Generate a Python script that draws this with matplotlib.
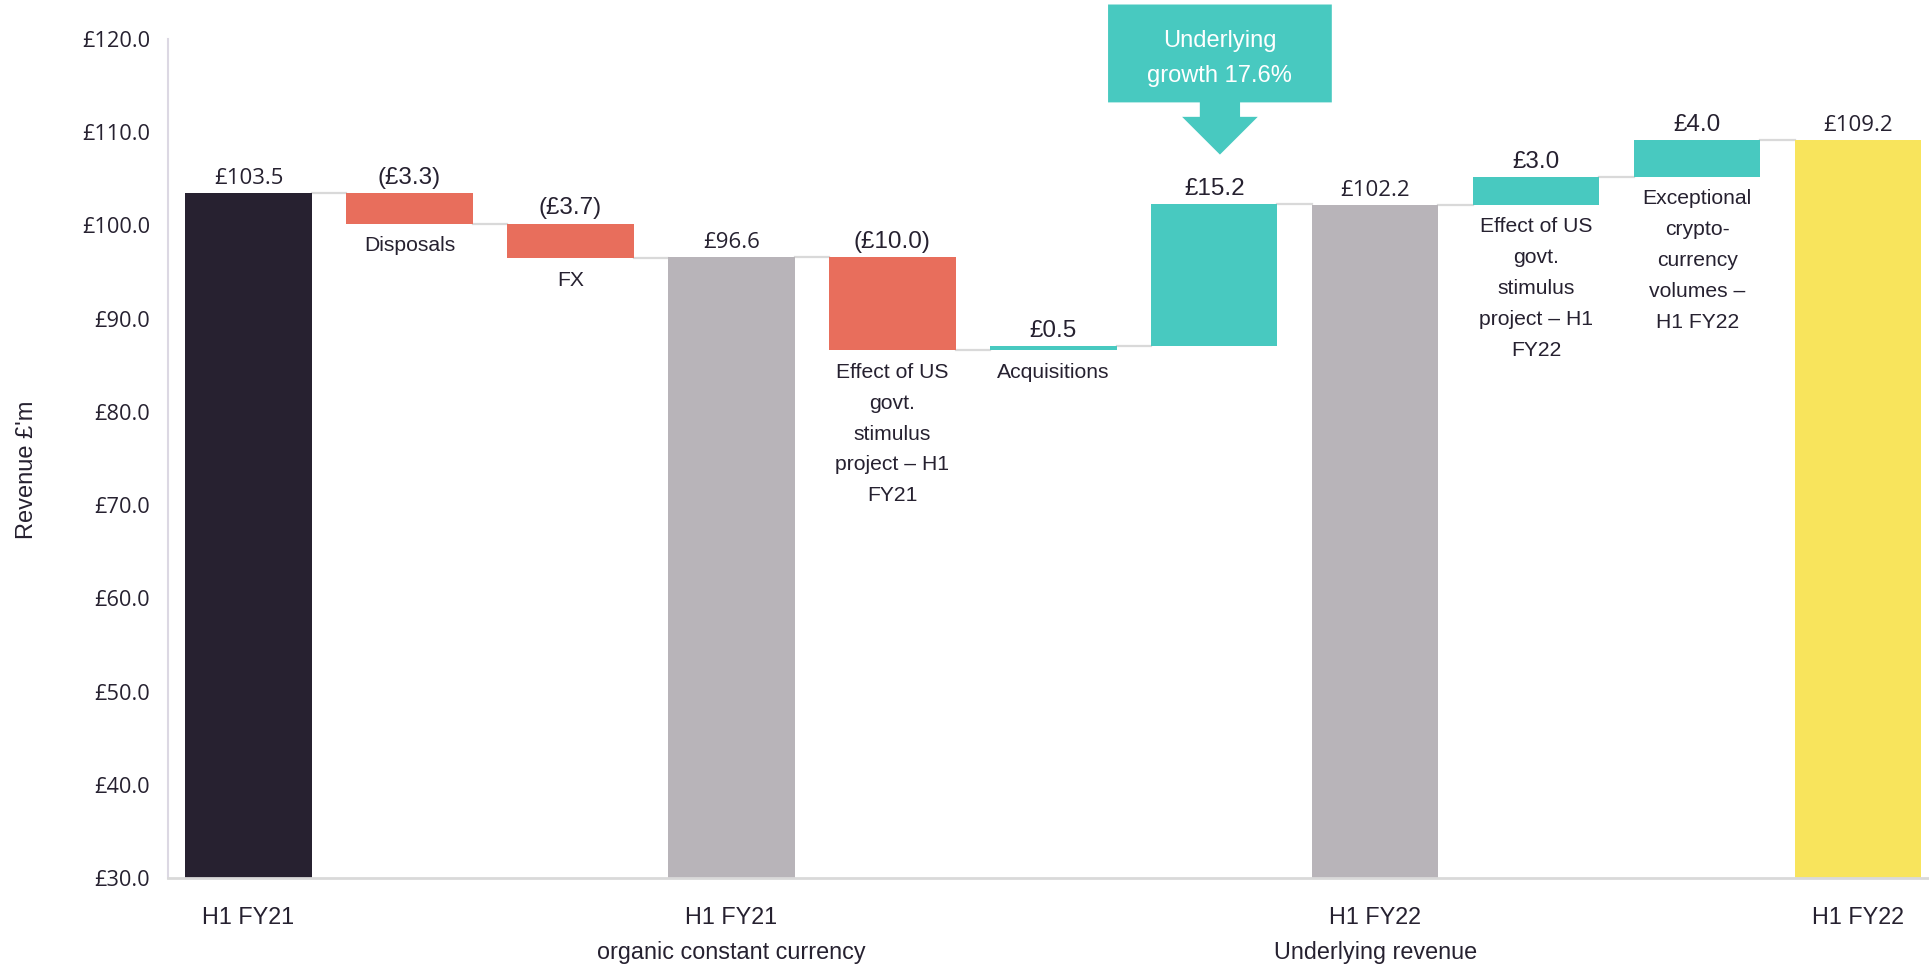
import matplotlib
matplotlib.use("Agg")
import matplotlib.pyplot as plt
from matplotlib.patches import Polygon

# datos del puente de ingresos
categorias = ["H1 FY21", "Disposals", "FX", "H1 FY21\norganic constant currency",
              "Effect of US\ngovt.\nstimulus\nproject – H1\nFY21", "Acquisitions", "",
              "H1 FY22\nUnderlying revenue",
              "Effect of US\ngovt.\nstimulus\nproject – H1\nFY22",
              "Exceptional\ncrypto-\ncurrency\nvolumes –\nH1 FY22", "H1 FY22"]
valores = [103.5, -3.3, -3.7, 96.6, -10.0, 0.5, 15.2, 102.2, 3.0, 4.0, 109.2]
tipos = ["start", "down", "down", "sub", "down", "up", "up", "sub", "up", "up", "end"]
yticks = [30, 40, 50, 60, 70, 80, 90, 100, 110, 120]
callout_texto = "Underlying\ngrowth 17.6%"
callout_barra = 6

colores = {"start": "#272130", "down": "#E86E5C", "up": "#48C9C0",
           "sub": "#B8B4B9", "end": "#F8E45C"}
txt = "#262130"
ancho = 0.785

fig = plt.figure(figsize=(19.29, 9.69), dpi=100)
ax = fig.add_axes([168/1929, 91/969, 1 - 168/1929, 839/969])

acum = 0
niveles = []
for i, (v, t) in enumerate(zip(valores, tipos)):
    if t in ("start", "sub", "end"):
        base, alto = 0, v
        acum = v
        tope = v
        etiqueta = "£%.1f" % v
        fam, tam = "Open Sans", 16
    else:
        base = min(acum, acum + v)
        alto = abs(v)
        acum = acum + v
        tope = base + alto
        etiqueta = "£%.1f" % v if v > 0 else "(£%.1f)" % abs(v)
        fam, tam = "Liberation Sans", 17.5
    niveles.append(acum)
    ax.bar(i, alto, bottom=base, width=ancho, color=colores[t], zorder=2)
    ax.annotate(etiqueta, (i, tope), xytext=(0, 3), textcoords="offset points",
                ha="center", va="bottom", fontsize=tam, family=fam, color=txt)
    if t not in ("start", "sub", "end") and categorias[i]:
        ax.annotate(categorias[i], (i, base), xytext=(0, -9), textcoords="offset points",
                    ha="center", va="top", fontsize=15.2, family="Liberation Sans",
                    color=txt, linespacing=1.79)

# lineas conectoras
for i in range(len(valores) - 1):
    ax.plot([i + ancho/2, i + 1 - ancho/2], [niveles[i], niveles[i]],
            color="#d9d9d9", lw=1.6, zorder=1)

# cuadro de crecimiento subyacente
cx = callout_barra + 0.035
forma = [(cx - 0.695, 123.7), (cx + 0.695, 123.7), (cx + 0.695, 113.2),
         (cx + 0.125, 113.2), (cx + 0.125, 111.65), (cx + 0.235, 111.65),
         (cx, 107.6), (cx - 0.235, 111.65), (cx - 0.125, 111.65),
         (cx - 0.125, 113.2), (cx - 0.695, 113.2)]
ax.add_patch(Polygon(forma, closed=True, facecolor="#48C9C0", edgecolor="none",
                     clip_on=False, zorder=3))
ax.text(cx, 117.9, callout_texto, ha="center", va="center", color="white",
        fontsize=17, family="Liberation Sans", linespacing=1.72, zorder=4)

ax.set_xlim(-0.5, 10.44)
ax.set_ylim(30, 120)
ax.set_yticks(yticks)
ax.set_yticklabels(["£%.1f" % y for y in yticks], family="Open Sans", fontsize=15.7, color=txt)
tot_idx = [i for i, t in enumerate(tipos) if t in ("start", "sub", "end")]
ax.set_xticks(tot_idx)
ax.set_xticklabels([categorias[i] for i in tot_idx], family="Liberation Sans",
                   fontsize=16.8, color=txt, linespacing=1.7, va="top")
ax.tick_params(axis="y", length=0, pad=13)
ax.tick_params(axis="x", length=0, pad=20)
for s in ["top", "right"]:
    ax.spines[s].set_visible(False)
ax.spines["left"].set_color("#dcd8e3")
ax.spines["left"].set_linewidth(1.5)
ax.spines["bottom"].set_color("#d9d9d9")
ax.spines["bottom"].set_linewidth(2)

fig.text(27/1929, 1 - 470/969, "Revenue £'m", rotation=90, ha="center", va="center",
         fontsize=17, family="Liberation Sans", color=txt)

fig.savefig("out.png", dpi=100)
